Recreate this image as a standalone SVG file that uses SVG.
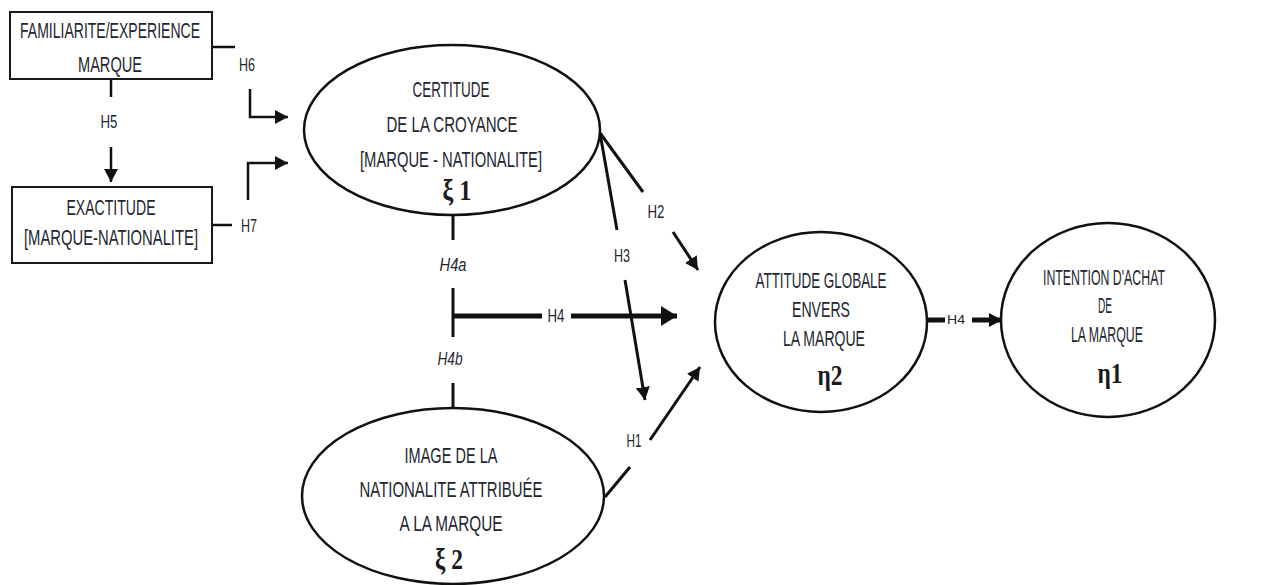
<svg xmlns="http://www.w3.org/2000/svg" width="1270" height="585" viewBox="0 0 1270 585">
<style>
.bg{fill:#ffffff}
.box{fill:#ffffff;stroke:#1a1a1a;stroke-width:2}
.ell{fill:#ffffff;stroke:#111;stroke-width:2.5}
.t{font-family:"Liberation Sans",Arial,sans-serif;font-size:22.5px;fill:#23262f;text-anchor:middle}
.lab{font-family:"Liberation Sans",Arial,sans-serif;font-size:18px;fill:#23262f;text-anchor:middle}
.it{font-style:italic}
.g{font-family:"Liberation Serif","Times New Roman",serif;font-size:30px;font-weight:bold;fill:#1a1a1a;text-anchor:middle}
.c{fill:none;stroke:#111;stroke-width:2.5}
.c3{fill:none;stroke:#111;stroke-width:3}
.c5{fill:none;stroke:#111;stroke-width:5}
</style>
<defs>
<marker id="ah" markerUnits="userSpaceOnUse" markerWidth="14" markerHeight="14" refX="13" refY="7" orient="auto"><path d="M0,0 L13,7 L0,14 z" fill="#111"/></marker>
<marker id="ahb" markerUnits="userSpaceOnUse" markerWidth="17" markerHeight="20" refX="16" refY="10" orient="auto"><path d="M0,0 L16,10 L0,20 z" fill="#111"/></marker>
</defs>
<rect class="bg" x="0" y="0" width="1270" height="585"/>

<g id="connectors">
<!-- H6 -->
<line class="c" x1="212" y1="47" x2="235" y2="47"/>
<polyline class="c" points="250,89 250,117 288,117" marker-end="url(#ah)"/>
<text class="lab" x="247" y="71" textLength="16" lengthAdjust="spacingAndGlyphs">H6</text>
<!-- H5 -->
<line class="c" x1="111" y1="79" x2="111" y2="97"/>
<line class="c" x1="111" y1="147" x2="111" y2="182" marker-end="url(#ah)"/>
<text class="lab" x="109" y="128" textLength="17" lengthAdjust="spacingAndGlyphs">H5</text>
<!-- H7 -->
<line class="c" x1="212" y1="225" x2="232" y2="225"/>
<polyline class="c" points="248,200 248,163 288,163" marker-end="url(#ah)"/>
<text class="lab" x="249" y="232" textLength="16" lengthAdjust="spacingAndGlyphs">H7</text>
<!-- H4a / H4b / H4 -->
<line class="c3" x1="453" y1="215" x2="453" y2="240"/>
<text class="lab it" x="453" y="271" textLength="27" lengthAdjust="spacingAndGlyphs">H4a</text>
<line class="c3" x1="453" y1="288" x2="453" y2="337"/>
<text class="lab it" x="450" y="365" textLength="25" lengthAdjust="spacingAndGlyphs">H4b</text>
<line class="c3" x1="453" y1="383" x2="453" y2="408"/>
<line class="c5" x1="453" y1="316" x2="542" y2="316"/>
<line class="c5" x1="571" y1="316" x2="677" y2="316" marker-end="url(#ahb)"/>
<text class="lab" x="556" y="322" textLength="17" lengthAdjust="spacingAndGlyphs">H4</text>
<!-- H2 -->
<line class="c3" x1="600" y1="133" x2="643" y2="192"/>
<line class="c3" x1="673" y1="232" x2="698" y2="270" marker-end="url(#ah)"/>
<text class="lab" x="656" y="218" textLength="17" lengthAdjust="spacingAndGlyphs">H2</text>
<!-- H3 -->
<line class="c3" x1="600" y1="133" x2="617" y2="230"/>
<line class="c3" x1="625" y1="280" x2="645" y2="400" marker-end="url(#ah)"/>
<text class="lab" x="622" y="262" textLength="16" lengthAdjust="spacingAndGlyphs">H3</text>
<!-- H1 -->
<line class="c3" x1="605" y1="497" x2="630" y2="467"/>
<line class="c3" x1="650" y1="440" x2="700" y2="367" marker-end="url(#ah)"/>
<text class="lab" x="634" y="447" textLength="15" lengthAdjust="spacingAndGlyphs">H1</text>
<!-- H4 right -->
<line class="c5" x1="927" y1="320" x2="945" y2="320"/>
<line class="c5" x1="972" y1="320" x2="1002" y2="320" marker-end="url(#ah)"/>
<text class="lab" x="956" y="324" style="font-size:13px" textLength="18" lengthAdjust="spacingAndGlyphs">H4</text>
</g>

<g id="familiarite">
<rect class="box" x="10" y="12" width="202" height="67"/>
<text class="t" x="110" y="38" textLength="180" lengthAdjust="spacingAndGlyphs">FAMILIARITE/EXPERIENCE</text>
<text class="t" x="110" y="72" textLength="64" lengthAdjust="spacingAndGlyphs">MARQUE</text>
</g>

<g id="exactitude">
<rect class="box" x="12" y="187" width="200" height="76"/>
<text class="t" x="111" y="215" textLength="89" lengthAdjust="spacingAndGlyphs">EXACTITUDE</text>
<text class="t" x="0" y="0" transform="translate(111,245) scale(0.658,1)">[MARQUE-NATIONALITE]</text>
</g>

<g id="certitude">
<ellipse class="ell" cx="452" cy="130" rx="148" ry="85"/>
<text class="t" x="451" y="97" textLength="77" lengthAdjust="spacingAndGlyphs">CERTITUDE</text>
<text class="t" x="452" y="132" textLength="131" lengthAdjust="spacingAndGlyphs">DE LA CROYANCE</text>
<text class="t" x="451" y="167" textLength="182" lengthAdjust="spacingAndGlyphs">[MARQUE - NATIONALITE]</text>
<text class="g" x="457" y="200" textLength="29" lengthAdjust="spacingAndGlyphs">ξ 1</text>
</g>

<g id="image">
<ellipse class="ell" cx="453" cy="496" rx="151" ry="88"/>
<text class="t" x="451" y="463" textLength="93" lengthAdjust="spacingAndGlyphs">IMAGE DE LA</text>
<text class="t" x="451" y="497" textLength="183" lengthAdjust="spacingAndGlyphs">NATIONALITE  ATTRIBUÉE</text>
<text class="t" x="451" y="531" textLength="103" lengthAdjust="spacingAndGlyphs">A LA MARQUE</text>
<text class="g" x="449" y="569" textLength="28" lengthAdjust="spacingAndGlyphs">ξ 2</text>
</g>

<g id="attitude">
<ellipse class="ell" cx="821" cy="322" rx="106" ry="90"/>
<text class="t" x="821" y="288" textLength="131" lengthAdjust="spacingAndGlyphs">ATTITUDE GLOBALE</text>
<text class="t" x="821" y="317" textLength="58" lengthAdjust="spacingAndGlyphs">ENVERS</text>
<text class="t" x="824" y="346" textLength="82" lengthAdjust="spacingAndGlyphs">LA MARQUE</text>
<text class="g" x="830" y="385" textLength="25" lengthAdjust="spacingAndGlyphs">η2</text>
</g>

<g id="intention">
<ellipse class="ell" cx="1108" cy="320" rx="107" ry="97"/>
<text class="t" x="1104" y="285" textLength="122" lengthAdjust="spacingAndGlyphs">INTENTION D'ACHAT</text>
<text class="t" x="1105" y="313" textLength="14" lengthAdjust="spacingAndGlyphs">DE</text>
<text class="t" x="1107" y="342" textLength="72" lengthAdjust="spacingAndGlyphs">LA MARQUE</text>
<text class="g" x="1110" y="383" textLength="25" lengthAdjust="spacingAndGlyphs">η1</text>
</g>
</svg>
